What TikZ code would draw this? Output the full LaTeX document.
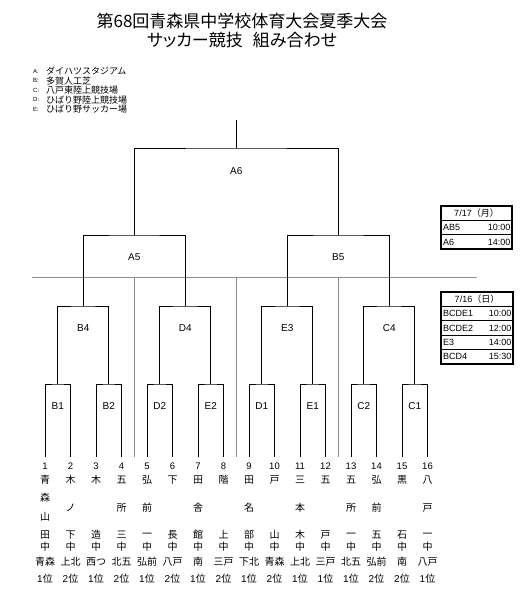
\documentclass[tikz,border=0pt]{standalone}
\usepackage{fontspec}
\setmainfont{Liberation Sans}
\newfontfamily\jp{Noto Sans CJK JP}
\newfontfamily\jpp[RawFeature={+palt}]{Noto Sans CJK JP}
\begin{document}
\begin{tikzpicture}[x=1pt,y=-1pt,
  br/.style={line width=1pt, black},
  sep/.style={line width=0.9pt, black!45},
  tbl/.style={line width=1.1pt, black},
  lab/.style={font=\fontsize{10}{12}\selectfont, inner sep=0pt},
  num/.style={font=\fontsize{9.5}{11}\selectfont, inner sep=0pt},
  nm/.style={font=\jp\fontsize{10}{12}\selectfont, inner sep=0pt},
  tt/.style={font=\fontsize{9}{11}\selectfont, inner sep=0pt},
  leg/.style={font=\jp\fontsize{9}{10}\selectfont, inner sep=0pt, anchor=west},
  legl/.style={font=\fontsize{6}{7}\selectfont, inner sep=0pt, anchor=west},
  ttl/.style={font=\jpp\fontsize{17}{20}\selectfont, inner sep=0pt}]
\useasboundingbox (0,0) rectangle (524,602);

% title
\node[ttl] (title1) at (242,21) {第68回青森県中学校体育大会夏季大会};
\node[ttl] (title2) at (242,40) {サッカー競技\hspace{0.6em}組み合わせ};

% legend
\node[legl] (la) at (33,71) {A:};
\node[leg] (lA) at (46,71) {ダイハツスタジアム};
\node[legl] (lb) at (33,80.6) {B:};
\node[leg] (lB) at (46,80.6) {多賀人工芝};
\node[legl] (lc) at (33,90.2) {C:};
\node[leg] (lC) at (46,90.2) {八戸東陸上競技場};
\node[legl] (ld) at (33,99.8) {D:};
\node[leg] (lD) at (46,99.8) {ひばり野陸上競技場};
\node[legl] (le) at (33,109.4) {E:};
\node[leg] (lE) at (46,109.4) {ひばり野サッカー場};

% coordinates
\foreach \i in {1,...,16} \coordinate (t\i) at ({45+(\i-1)*25.5},457);
\foreach \k in {1,...,8} \coordinate (m\k) at ({45+(2*\k-2)*25.5+12.75},384);
\foreach \k in {1,...,4} \coordinate (q\k) at ({45+(4*\k-4)*25.5+38.25},306);
\foreach \k in {1,2} \coordinate (s\k) at ({45+(8*\k-8)*25.5+89.25},235);
\coordinate (f) at (236.25,148);
\coordinate (top) at (236.25,120);

% gray separators
\coordinate (gl) at (32,277);
\coordinate (gr) at (477,277);
\draw[sep] (gl) -- (gr);
\foreach \k/\x in {1/134.25,2/236.25,3/338.25} {
  \coordinate (g\k t) at (\x,277);
  \coordinate (g\k b) at (\x,457);
  \draw[sep] (g\k t) -- (g\k b);
}

% brackets
\foreach \k/\a/\b in {1/1/2,2/3/4,3/5/6,4/7/8,5/9/10,6/11/12,7/13/14,8/15/16}
  \draw[br] (t\a) |- (m\k) -| (t\b);
\foreach \k/\a/\b in {1/1/2,2/3/4,3/5/6,4/7/8}
  \draw[br] (m\a) |- (q\k) -| (m\b);
\draw[br] (q1) |- (s1) -| (q2);
\draw[br] (q3) |- (s2) -| (q4);
\draw[br] (s1) |- (f) -| (s2);
\draw[br] (f) -- (top);

% match labels
\foreach \k/\t in {1/B1,2/B2,3/D2,4/E2,5/D1,6/E1,7/C2,8/C1}
  \node[lab] (lm\k) at ({45+(2*\k-2)*25.5+12.75},406) {\t};
\foreach \k/\t in {1/B4,2/D4,3/E3,4/C4}
  \node[lab] (lq\k) at ({45+(4*\k-4)*25.5+38.25},328) {\t};
\node[lab] (ls1) at (134.25,257) {A5};
\node[lab] (ls2) at (338.25,257) {B5};
\node[lab] (lf) at (236.25,171) {A6};

% numbers
\foreach \i in {1,...,16}
  \node[num] (n\i) at ({45+(\i-1)*25.5},466) {\i};

% team names
\foreach \c [count=\i] in {青,木,木,五,弘,下,田,階,田,戸,三,五,五,弘,黒,八}
  \node[nm] (ra\i) at ({45+(\i-1)*25.5},480) {\c};
\node[nm] (rb1x) at (45,498) {森};
\node[nm] (rb1y) at (45,517) {山};
\foreach \i/\c in {2/ノ,4/所,5/前,7/舎,9/名,11/本,13/所,14/前,16/戸}
  \node[nm] (rb\i) at ({45+(\i-1)*25.5},508) {\c};
\foreach \c [count=\i] in {田,下,造,三,一,長,館,上,部,山,木,戸,一,五,石,一}
  \node[nm] (rc\i) at ({45+(\i-1)*25.5},535) {\c};
\foreach \i in {1,...,16}
  \node[nm] (rd\i) at ({45+(\i-1)*25.5},547) {中};
\foreach \c [count=\i] in {青森,上北,西つ,北五,弘前,八戸,南,三戸,下北,青森,上北,三戸,北五,弘前,南,八戸}
  \node[nm] (re\i) at ({45+(\i-1)*25.5},562) {\c};
\foreach \r [count=\i] in {1,2,1,2,1,2,1,2,1,2,1,1,1,2,2,1}
  \node[nm] (rf\i) at ({45+(\i-1)*25.5},579) {{\rmfamily\r}位};

% table 7/17
\draw[tbl] (441,206) rectangle (512,249);
\draw[tbl] (441,220.3) -- (512,220.3);
\draw[tbl] (441,234.6) -- (512,234.6);
\node[tt] (h1) at (476.5,213.4) {7/17{\jp（月）}};
\node[tt,anchor=west] (a1) at (443,227.6) {AB5};
\node[tt,anchor=east] (a1t) at (510.5,227.6) {10:00};
\node[tt,anchor=west] (a2) at (443,241.9) {A6};
\node[tt,anchor=east] (a2t) at (510.5,241.9) {14:00};

% table 7/16
\draw[tbl] (441,292) rectangle (513,364);
\foreach \y in {306.4,320.8,335.2,349.6} \draw[tbl] (441,\y) -- (513,\y);
\node[tt] (h2) at (477,299.4) {7/16{\jp（日）}};
\foreach \t/\h/\y in {BCDE1/10:00/313.6,BCDE2/12:00/328,E3/14:00/342.4,BCD4/15:30/356.8} {
  \node[tt,anchor=west] (b\t) at (443,\y) {\t};
  \node[tt,anchor=east] (b\t t) at (511.5,\y) {\h};
}
\end{tikzpicture}
\end{document}
